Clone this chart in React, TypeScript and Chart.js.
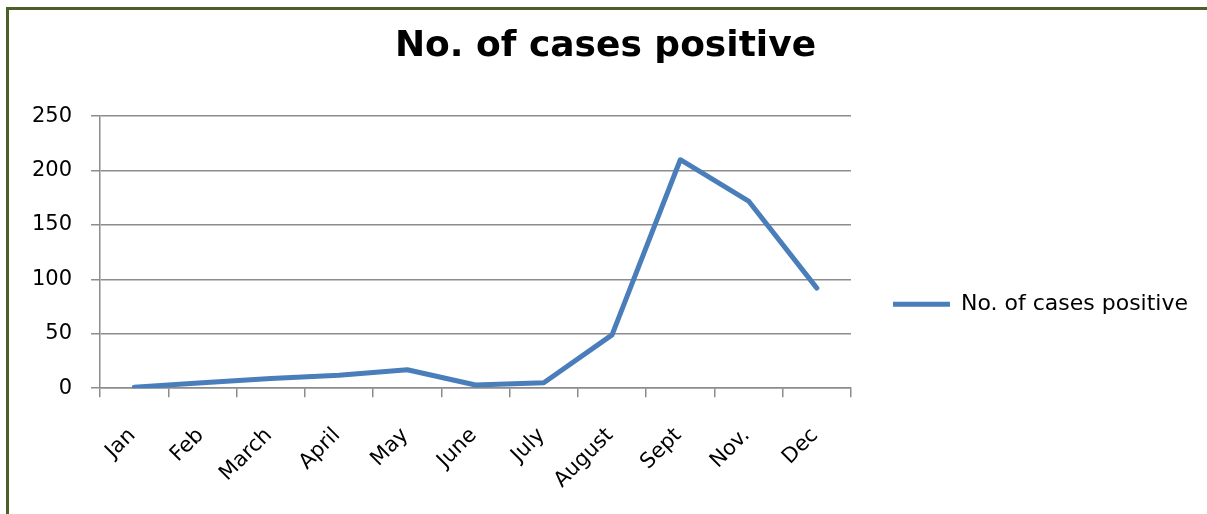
import React, { useEffect, useRef } from "react";
import { Chart, registerables } from "chart.js";

Chart.register(...registerables);

const categories = ["Jan", "Feb", "March", "April", "May", "June", "July", "August", "Sept", "Nov.", "Dec"];
const positiveCases = [1, 5, 9, 12, 17, 3, 5, 49, 210, 172, 92];
const yTicks = [0, 50, 100, 150, 200, 250];
const seriesLabel = "No. of cases positive";
const chartTitle = "No. of cases positive";

const W = 1207;
const H = 514;
const CW = 1198;
const FONT = "'DejaVu Sans', sans-serif";

export default function App() {
  const ref = useRef<HTMLCanvasElement | null>(null);

  useEffect(() => {
    if (!ref.current) return;
    const chart = new Chart(ref.current, {
      type: "line",
      data: {
        labels: categories,
        datasets: [
          {
            label: seriesLabel,
            data: positiveCases,
            borderColor: "#4a7ebb",
            backgroundColor: "#4a7ebb",
            borderWidth: 5,
            pointRadius: 0,
            pointHoverRadius: 0,
            tension: 0,
            borderJoinStyle: "round",
            borderCapStyle: "round",
          },
        ],
      },
      options: {
        responsive: false,
        animation: false,
        layout: { padding: { left: 13, right: 0, top: 0, bottom: -5 } },
        plugins: {
          title: {
            display: true,
            text: chartTitle,
            color: "#000",
            font: { family: FONT, size: 36, weight: "bold" },
            padding: { top: 25, bottom: 48 },
          },
          legend: {
            display: true,
            position: "right",
            align: "center",
            maxWidth: 400,
            title: { display: true, text: "", padding: { top: 75, bottom: 0 } },
            labels: {
              usePointStyle: true,
              pointStyle: "line",
              pointStyleWidth: 57,
              padding: 42,
              color: "#000",
              font: { family: FONT, size: 22 },
            },
          },
          tooltip: { enabled: false },
        },
        scales: {
          x: {
            type: "category",
            offset: true,
            grid: {
              offset: true,
              drawOnChartArea: false,
              drawTicks: true,
              tickLength: 9,
              color: "#8c8c8c",
              lineWidth: 1.5,
            },
            border: { display: true, color: "#8c8c8c", width: 1.5 },
            ticks: {
              minRotation: 45,
              maxRotation: 45,
              padding: 26,
              labelOffset: -2,
              color: "#000",
              font: { family: FONT, size: 21 },
              autoSkip: false,
            },
          },
          y: {
            min: 0,
            max: 250,
            afterBuildTicks: (scale: any) => {
              scale.ticks = yTicks.map((v) => ({ value: v }));
            },
            grid: {
              drawTicks: true,
              tickLength: 9,
              color: "#8c8c8c",
              lineWidth: 1.5,
            },
            border: { display: true, color: "#8c8c8c", width: 1.5 },
            ticks: {
              padding: 19,
              color: "#000",
              font: { family: FONT, size: 21 },
            },
          },
        },
      },
    });
    return () => chart.destroy();
  }, []);

  return (
    <div style={{ position: "absolute", left: 0, top: 0, width: W, height: H, overflow: "hidden", background: "#fff" }}>
      <canvas ref={ref} width={CW} height={H} style={{ position: "absolute", left: 0, top: 0, display: "block" }} />
      <div
        style={{
          position: "absolute",
          left: 6,
          top: 7,
          width: W + 20,
          height: H + 20,
          borderTop: "3px solid #4b5f27",
          borderLeft: "3px solid #4b5f27",
          pointerEvents: "none",
        }}
      />
    </div>
  );
}
